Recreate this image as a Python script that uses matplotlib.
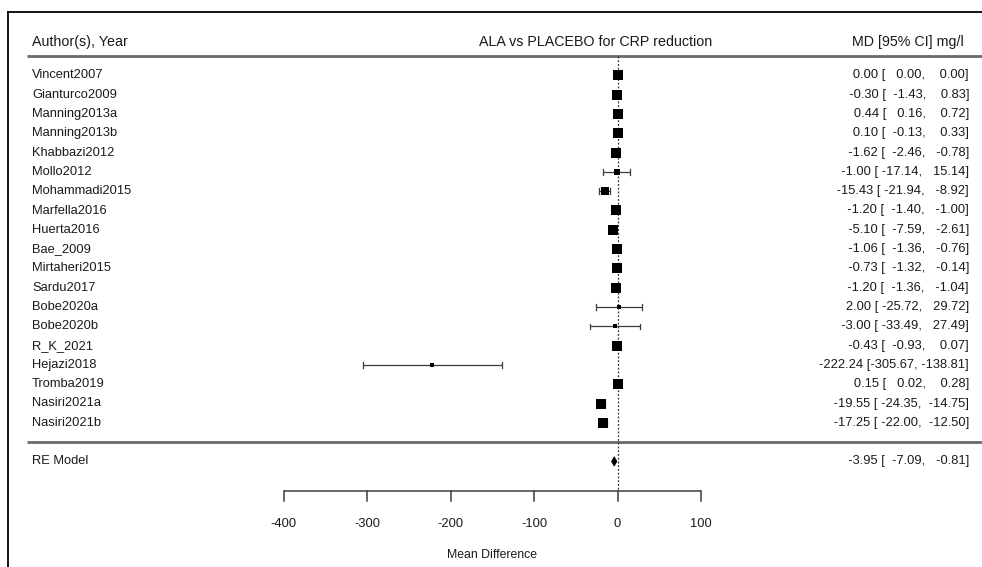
import matplotlib
matplotlib.use("Agg")
import matplotlib.pyplot as plt
from matplotlib.lines import Line2D
from matplotlib.patches import Polygon

studies = ["Vincent2007", "Gianturco2009", "Manning2013a", "Manning2013b", "Khabbazi2012",
           "Mollo2012", "Mohammadi2015", "Marfella2016", "Huerta2016", "Bae_2009",
           "Mirtaheri2015", "Sardu2017", "Bobe2020a", "Bobe2020b", "R_K_2021",
           "Hejazi2018", "Tromba2019", "Nasiri2021a", "Nasiri2021b"]
md = [0.00, -0.30, 0.44, 0.10, -1.62, -1.00, -15.43, -1.20, -5.10, -1.06,
      -0.73, -1.20, 2.00, -3.00, -0.43, -222.24, 0.15, -19.55, -17.25]
ci_low = [0.00, -1.43, 0.16, -0.13, -2.46, -17.14, -21.94, -1.40, -7.59, -1.36,
          -1.32, -1.36, -25.72, -33.49, -0.93, -305.67, 0.02, -24.35, -22.00]
ci_high = [0.00, 0.83, 0.72, 0.33, -0.78, 15.14, -8.92, -1.00, -2.61, -0.76,
           -0.14, -1.04, 29.72, 27.49, 0.07, -138.81, 0.28, -14.75, -12.50]
weights = [6.46, 6.45, 6.46, 6.46, 6.44, 2.89, 5.38, 6.46, 6.27, 6.46,
           6.45, 6.46, 1.39, 1.20, 6.45, 0.19, 6.46, 5.83, 5.84]
re_label = "RE Model"
re_est, re_low, re_high = -3.95, -7.09, -0.81
xticks = [-400, -300, -200, -100, 0, 100]

TXT = "#1a1a1a"
LINE = "#3c3c3c"
plt.rcParams['font.family'] = ['Liberation Sans', 'DejaVu Sans']

W, H = 982, 567
fig = plt.figure(figsize=(W / 100, H / 100), dpi=100)
ax = fig.add_axes([0, 0, 1, 1])
ax.axis("off")

# pixel mapping: x_px = x0 + sx*value ; y_px = y0 + sy*row
x0, sx = 617.5, 0.834
y0, sy = 75.4, 19.3
ax.set_xlim((0 - x0) / sx, (W - x0) / sx)
ax.set_ylim((H - y0) / sy, (0 - y0) / sy)

yt = ax.get_yaxis_transform()   # x axes-fraction, y data
k = len(studies)
rows = list(range(k))
FS = 9.3
HFS = 10.3

# frame (top and left)
fig.add_artist(Line2D([8 / W, 1.0], [1 - 12 / H, 1 - 12 / H], color="black", lw=1.3))
fig.add_artist(Line2D([8 / W, 8 / W], [0, 1 - 12 / H], color="black", lw=1.3))

# header
hy = -1.72
ax.text(32 / W, hy, "Author(s), Year", transform=yt, ha="left", va="center", fontsize=HFS, color=TXT)
ax.text(596 / W, hy, "ALA vs PLACEBO for CRP reduction", transform=yt, ha="center", va="center",
        fontsize=HFS, color=TXT)
ax.text(964 / W, hy, "MD [95% CI] mg/l", transform=yt, ha="right", va="center", fontsize=HFS, color=TXT)
ax.plot([27 / W, 1.0], [-1, -1], transform=yt, color="#6a6a6a", lw=2.0, solid_capstyle="butt")
ax.plot([27 / W, 1.0], [k, k], transform=yt, color="#6a6a6a", lw=2.0, solid_capstyle="butt")

axis_row = (491 - y0) / sy
# reference dotted line
ax.plot([0, 0], [-1, axis_row], color="#333333", lw=0.9, ls=(0, (1.5, 1.5)))

# studies
wmin, wmax = min(weights), max(weights)
base_px = 6.6
for i in rows:
    ax.plot([ci_low[i], ci_high[i]], [i, i], color=LINE, lw=0.9, solid_capstyle="butt")
    for e in (ci_low[i], ci_high[i]):
        ax.plot([e, e], [i - 0.14, i + 0.14], color=LINE, lw=0.9)
    cex = 0.5 + (weights[i] - wmin) / (wmax - wmin)
    ax.plot([md[i]], [i], marker="s", color="black", markersize=base_px * cex * 0.72,
            markeredgewidth=0, linestyle="none")
    ax.text(32 / W, i, studies[i], transform=yt, ha="left", va="center", fontsize=FS, color=TXT)
    s = f"{md[i]:7.2f} [{ci_low[i]:7.2f}, {ci_high[i]:7.2f}]"
    ax.text(969 / W, i, s, transform=yt, ha="right", va="center", fontsize=FS, color=TXT)

# RE model
rr = k + 1
dh = 0.24
ax.add_patch(Polygon([[re_low, rr], [re_est, rr - dh], [re_high, rr], [re_est, rr + dh]],
                     closed=True, facecolor="black", edgecolor="black", lw=0.6))
ax.text(32 / W, rr, re_label, transform=yt, ha="left", va="center", fontsize=FS, color=TXT)
s = f"{re_est:7.2f} [{re_low:7.2f}, {re_high:7.2f}]"
ax.text(969 / W, rr, s, transform=yt, ha="right", va="center", fontsize=FS, color=TXT)

# x axis
ax.plot([xticks[0], xticks[-1]], [axis_row, axis_row], color=LINE, lw=1.1, solid_capstyle="butt")
tick_len = 10 / sy
for t in xticks:
    ax.plot([t, t], [axis_row, axis_row + tick_len], color=LINE, lw=1.1)
    ax.text(t, (524 - y0) / sy, f"{t}", ha="center", va="center", fontsize=FS, color=TXT)
ax.text((xticks[0] + xticks[-1]) / 2, (555 - y0) / sy, "Mean Difference", ha="center", va="center",
        fontsize=8.8, color=TXT)

fig.savefig("out.png", dpi=100, facecolor="white")
